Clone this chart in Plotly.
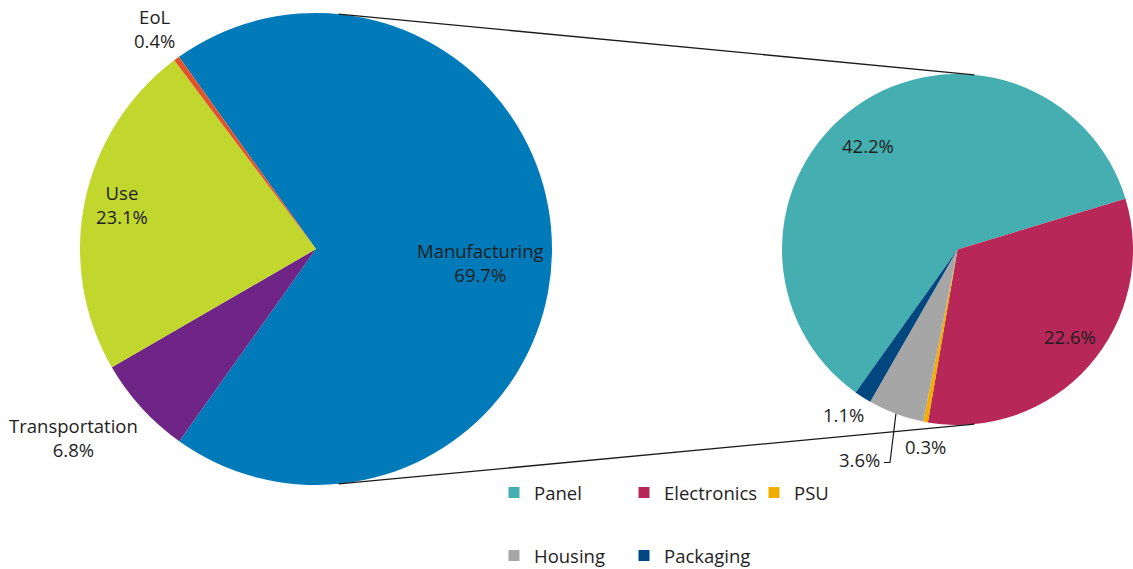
import math
import plotly.graph_objects as go

W, H = 1133, 569

# ---- data ----
stages = ["Manufacturing", "Transportation", "Use", "EoL"]
stage_share = [69.7, 6.8, 23.1, 0.4]
stage_colors = ["#007AB8", "#6E2585", "#C2D72E", "#E2532D"]

parts = ["Panel", "Electronics", "PSU", "Housing", "Packaging"]
part_share = [42.2, 22.6, 0.3, 3.6, 1.1]
part_colors = ["#44AEB0", "#B72757", "#F2AE00", "#A6A6A6", "#00477F"]

legend_row1 = ["Panel", "Electronics", "PSU"]
legend_row2 = ["Housing", "Packaging"]

FONT = "Open Sans"
FS = 18.5
TXT = "#1e1e1e"

# ---- geometry (pixels) ----
L_box = (80, 13, 552, 485)      # left, top, right, bottom
R_box = (782, 73.5, 1133, 425.5)


def dom(box):
    l, t, r, b = box
    return dict(x=[l / W, r / W], y=[1 - b / H, 1 - t / H])


def circle(box):
    l, t, r, b = box
    cx, cy = (l + r) / 2, (t + b) / 2
    rad = min(r - l, b - t) / 2
    return cx, cy, rad


def on_circle(box, ang_deg):
    cx, cy, rad = circle(box)
    a = math.radians(ang_deg)
    return cx + rad * math.sin(a), cy - rad * math.cos(a)


def px(x, y):
    return x / W, 1 - y / H


fig = go.Figure()

fig.add_trace(go.Pie(
    labels=stages, values=stage_share, sort=False, direction="clockwise",
    rotation=-35.5, domain=dom(L_box), textinfo="none", showlegend=False,
    marker=dict(colors=stage_colors, line=dict(width=0)), hoverinfo="label+percent",
))

fig.add_trace(go.Pie(
    labels=parts, values=part_share, sort=False, direction="clockwise",
    rotation=-144.5, domain=dom(R_box), textinfo="none", showlegend=False,
    marker=dict(colors=part_colors, line=dict(width=0)), hoverinfo="label+value",
))

# legend entries (two rows, as in the reference)
for name in parts:
    col = part_colors[parts.index(name)]
    fig.add_trace(go.Scatter(
        x=[None], y=[None], mode="markers", name=name,
        marker=dict(symbol="square", size=11, color=col),
        legend="legend" if name in legend_row1 else "legend2",
        hoverinfo="skip",
    ))

# connector lines
shapes = []
for a in (5.5, 174.5):
    x0, y0 = on_circle(L_box, a)
    x1, y1 = on_circle(R_box, a)
    X0, Y0 = px(x0, y0)
    X1, Y1 = px(x1, y1)
    shapes.append(dict(type="line", xref="paper", yref="paper", x0=X0, y0=Y0,
                       x1=X1, y1=Y1, line=dict(color="#1a1a1a", width=1.3)))

# leader line for Housing label
cum = sum(part_share[:3])
tot = sum(part_share)
mid_ang = -144.5 + 360 * (cum + part_share[3] / 2) / tot
ex, ey = on_circle(R_box, mid_ang)
pts = [(884, 462.5), (890, 462.5), (ex, ey)]
path = "M " + " L ".join(f"{px(x, y)[0]},{px(x, y)[1]}" for x, y in pts)
shapes.append(dict(type="path", xref="paper", yref="paper", path=path,
                   line=dict(color="#1a1a1a", width=1.2)))

# labels
def fmt(v):
    return f"{v:.1f}%"

annots = []
left_pos = {"Manufacturing": (480, 262), "Transportation": (73, 437),
            "Use": (122, 204), "EoL": (154, 29)}
for s, v in zip(stages, stage_share):
    x, y = px(*left_pos[s])
    annots.append(dict(x=x, y=y, xref="paper", yref="paper", showarrow=False,
                       text=f"{s}<br>{fmt(v)}", xanchor="center", yanchor="middle",
                       font=dict(family=FONT, size=FS, color=TXT)))

right_pos = {"Panel": (868, 146), "Electronics": (1070, 336), "PSU": (925, 446),
             "Housing": (859, 459), "Packaging": (843, 414)}
for p, v in zip(parts, part_share):
    x, y = px(*right_pos[p])
    annots.append(dict(x=x, y=y, xref="paper", yref="paper", showarrow=False,
                       text=fmt(v), xanchor="center", yanchor="middle",
                       font=dict(family=FONT, size=FS, color=TXT)))

leg_common = dict(orientation="h", xanchor="left", yanchor="middle",
                  entrywidth=85, entrywidthmode="pixels",
                  font=dict(family=FONT, size=FS, color=TXT),
                  bgcolor="rgba(0,0,0,0)", itemclick=False, itemdoubleclick=False)

fig.update_layout(
    width=W, height=H, margin=dict(l=0, r=0, t=0, b=0, autoexpand=False),
    paper_bgcolor="white", plot_bgcolor="white",
    font=dict(family=FONT, size=FS, color=TXT),
    xaxis=dict(visible=False), yaxis=dict(visible=False),
    shapes=shapes, annotations=annots,
    legend=dict(x=494 / W, y=1 - 493 / H, **leg_common),
    legend2=dict(x=494 / W, y=1 - 556 / H, **leg_common),
)

fig.write_html("out.html", config={"displayModeBar": False},
               post_script="document.body.style.margin='0';document.body.style.overflow='hidden';")
